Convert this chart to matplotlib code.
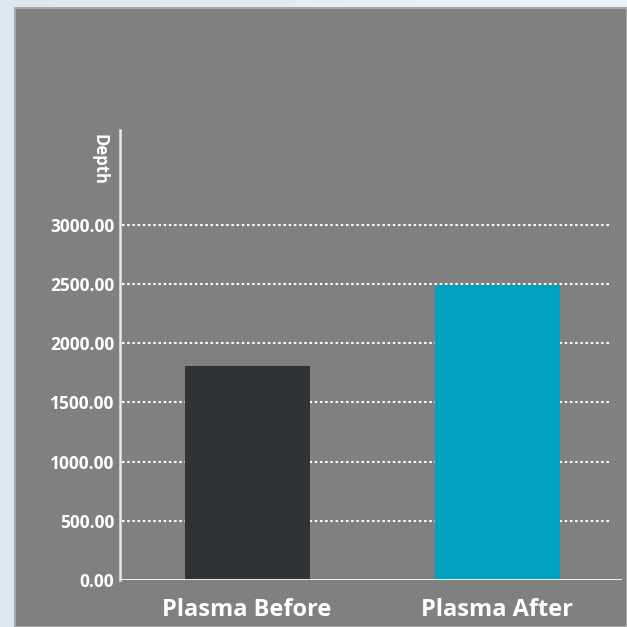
import numpy as np
import matplotlib
matplotlib.use("Agg")
import matplotlib.pyplot as plt
from matplotlib.patches import Rectangle
from matplotlib.colors import LinearSegmentedColormap

# data
categories = ["Plasma Before", "Plasma After"]
depth = [1810, 2490]
bar_colors = ["#303336", "#00a0bf"]
yticks = [0, 500, 1000, 1500, 2000, 2500, 3000]

plt.rcParams['font.family'] = ['Open Sans', 'DejaVu Sans']

fig = plt.figure(figsize=(6.27, 6.27), dpi=100)

# light gradient background
bg = fig.add_axes([0, 0, 1, 1])
grad = np.linspace(0, 1, 256).reshape(1, -1)
cmap = LinearSegmentedColormap.from_list("bg", ["#dde7ee", "#eef3f7"])
bg.imshow(grad, aspect="auto", cmap=cmap, extent=[0, 1, 0, 1])
bg.set_xlim(0, 1)
bg.set_ylim(0, 1)
bg.axis("off")

# gray panel
bg.add_patch(Rectangle((15 / 627, 0), 1 - 15 / 627, 1 - 8 / 627,
                       facecolor="#808080", edgecolor="#a8a8a8", linewidth=1.5))

ax = fig.add_axes([120 / 627, 1 - 580 / 627, 502 / 627, 450 / 627])
ax.set_facecolor("none")
ax.bar(range(len(categories)), depth, width=0.5, color=bar_colors, zorder=3)
ax.set_xlim(-0.508, 1.5)
ax.set_ylim(0, 3800)

# dotted gridlines, stopping a bit before the right end
ax.hlines(yticks[1:], -0.5, 1.452, color="white", linestyle=(0, (1.2, 1.3)),
          linewidth=1.5, zorder=1)

ax.set_yticks(yticks)
ax.set_yticklabels(["%.2f" % v for v in yticks], color="white",
                   fontsize=12.5, fontweight="bold")
ax.set_xticks(range(len(categories)))
ax.set_xticklabels(categories, color="white", fontsize=17, fontweight="bold")
ax.tick_params(axis="both", length=0)
ax.tick_params(axis="y", pad=4)
ax.tick_params(axis="x", pad=13)

ax.axhline(0, color="white", linewidth=2, zorder=4)

for s in ["top", "right", "bottom"]:
    ax.spines[s].set_visible(False)
ax.spines["left"].set_color("#e8e8e8")
ax.spines["left"].set_linewidth(1.8)

ax.text(-0.04, 0.99, "Depth", transform=ax.transAxes, rotation=270,
        color="white", fontsize=12, fontweight="bold", ha="center", va="top")

fig.savefig("out.png", dpi=100)
